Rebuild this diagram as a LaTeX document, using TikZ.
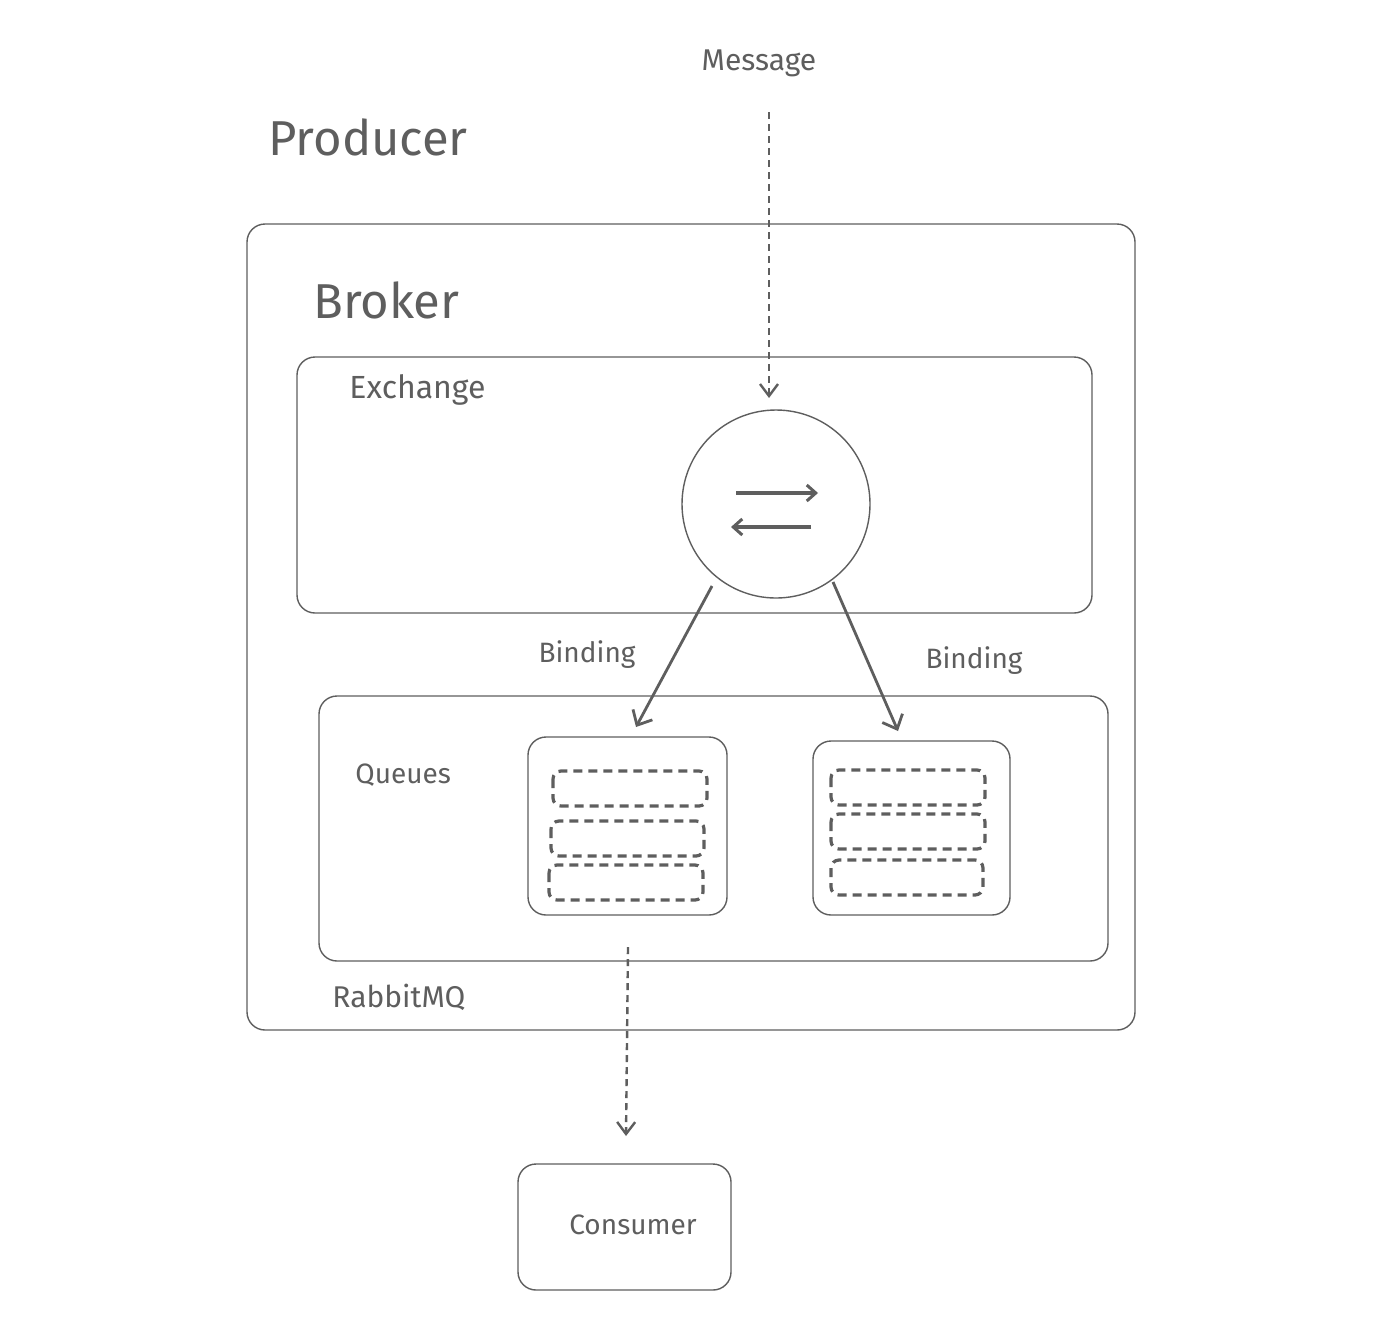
\documentclass[tikz,border=0pt]{standalone}
\usepackage{fontspec}
\setmainfont{Fira Sans}
\usetikzlibrary{arrows.meta}
\definecolor{ink}{HTML}{5E5E5E}
\tikzset{
  box/.style={draw=ink, line width=0.7pt, rounded corners=9pt},
  slot/.style={draw=ink, line width=1.6pt, dash pattern=on 4.5pt off 3pt, rounded corners=4pt},
  flow/.style={draw=ink, line width=1.2pt, dash pattern=on 3.5pt off 2.5pt, -{Straight Barb[length=6pt,width=9pt,line width=1.2pt]}},
  bind/.style={draw=ink, line width=1.4pt, -{Straight Barb[length=6pt,width=11pt,line width=1.4pt]}},
  swap/.style={draw=ink, line width=1.6pt, -{Straight Barb[length=4.5pt,width=8pt,line width=1.5pt]}},
  lbl/.style={text=ink, inner sep=0pt, font=\fontsize{14}{16}\selectfont},
  big/.style={text=ink, inner sep=0pt, font=\fontsize{24.5}{28}\selectfont},
}
\begin{document}
\begin{tikzpicture}[x=0.5pt,y=-0.5pt]
\useasboundingbox[fill=white] (0,0) rectangle (1374,1334);
% texts
\node[lbl, font=\fontsize{15}{17}\selectfont] (msg) at (759,63) {Message};
\node[big, anchor=west] (producer) at (268,137) {Producer};
% broker
\draw[box] (247,224) rectangle (1135,1030);
\node[big, anchor=west] (broker) at (313,300) {Broker};
% exchange
\draw[box] (297,357) rectangle (1092,613);
\node[lbl, font=\fontsize{16}{18}\selectfont, anchor=west] (exch) at (349,390) {Exchange};
\node[draw=ink, line width=0.7pt, circle, minimum size=94pt, inner sep=0pt] (circ) at (776,504) {};
\coordinate (ra) at (736,493); \coordinate (rb) at (818,493);
\coordinate (la) at (811,527); \coordinate (lb) at (731,527);
\draw[swap] (ra) -- (rb);
\draw[swap] (la) -- (lb);
% queues
\draw[box] (319,696) rectangle (1108,961);
\node[lbl, anchor=west] (queues) at (355,775) {Queues};
\node[box, minimum width=99.5pt, minimum height=89pt, inner sep=0pt] (q1) at (627.5,826) {};
\node[box, minimum width=98.5pt, minimum height=87pt, inner sep=0pt] (q2) at (911.5,828) {};
\draw[slot] (553,771) rectangle (707,806);
\draw[slot] (551,821) rectangle (704,856);
\draw[slot] (549,865) rectangle (703,900);
\draw[slot] (831,770) rectangle (985,805);
\draw[slot] (831,814) rectangle (985,849);
\draw[slot] (831,860) rectangle (983,895);
% bindings
\coordinate (b1s) at (712,586); \coordinate (b1e) at (636,727);
\coordinate (b2s) at (833,582); \coordinate (b2e) at (898,731);
\draw[bind] (b1s) -- (b1e);
\draw[bind] (b2s) -- (b2e);
\node[lbl] (bl1) at (587,655) {Binding};
\node[lbl] (bl2) at (974,661) {Binding};
% rabbitmq
\node[lbl, font=\fontsize{15}{17}\selectfont, anchor=west] (rmq) at (332,997) {RabbitMQ};
% consumer
\node[box, minimum width=106.5pt, minimum height=63pt, inner sep=0pt] (cons) at (624.5,1227) {};
\node[lbl] (constext) at (633,1225) {Consumer};
% flows
\coordinate (m1) at (769,112); \coordinate (m2) at (769,398);
\draw[flow] (m1) -- (m2);
\coordinate (c1) at (628,947); \coordinate (c2) at (626,1136);
\draw[flow] (c1) -- (c2);
\end{tikzpicture}
\end{document}
